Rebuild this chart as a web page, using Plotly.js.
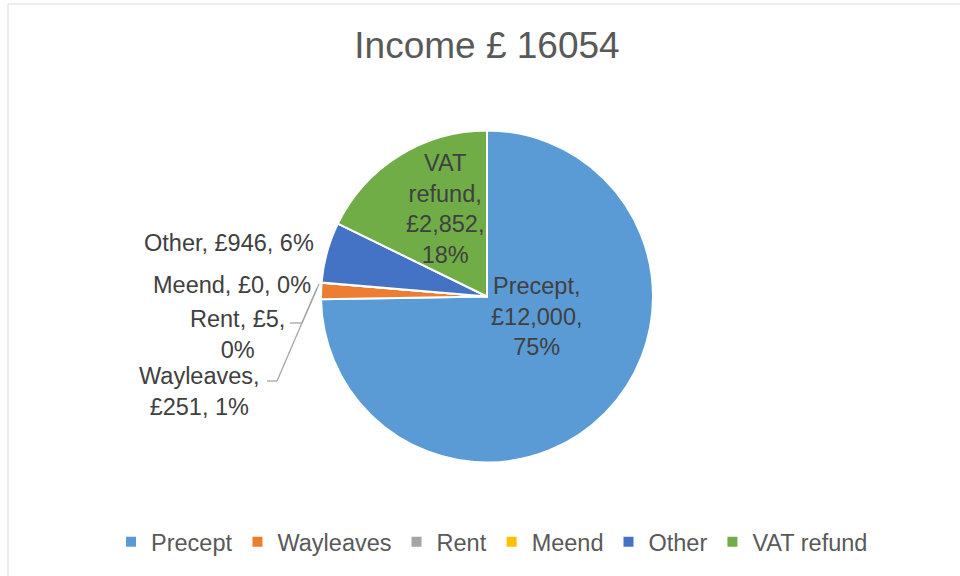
<!DOCTYPE html>
<html>
<head>
<meta charset="utf-8">
<script src="https://cdn.plot.ly/plotly-3.0.1.min.js"></script>
<style>html,body{margin:0;padding:0;background:#fff;}#chart{width:960px;height:576px;}</style>
</head>
<body>
<div id="chart"></div>
<script>
const categories = ["Precept", "Wayleaves", "Rent", "Meend", "Other", "VAT refund"];
const values = [12000, 251, 5, 0, 946, 2852];
const pctLabels = ["75%", "1%", "0%", "0%", "6%", "18%"];
const colors = ["#5B9BD5", "#ED7D31", "#A5A5A5", "#FFC000", "#4472C4", "#70AD47"];
const titleText = "Income £ 16054";

const W = 960, H = 576;
const px = x => x / W;
const py = y => 1 - y / H;
const FONT = "Liberation Sans, Arial, sans-serif";

function fmt(v) { return "£" + v.toLocaleString("en-GB"); }

// separators decide line breaks inside each label
const seps = [
  ["<br>", "<br>"],     // Precept
  ["<br>", " "],        // Wayleaves
  [" ", "<br>"],        // Rent
  [" ", " "],           // Meend
  [" ", " "],           // Other
  ["<br>", "<br>"]      // VAT refund
];
function labelText(i) {
  let name = categories[i] + ",";
  if (i === 5) name = "VAT<br>refund,";
  return name + seps[i][0] + fmt(values[i]) + "," + seps[i][1] + pctLabels[i];
}

// label placements (pixel centres) and anchors
const labelPos = [
  {x: 536, y: 316, xa: "center", align: "center"},
  {x: 199, y: 391, xa: "center", align: "center"},
  {x: 237, y: 334, xa: "center", align: "center"},
  {x: 313, y: 285, xa: "right", align: "right"},
  {x: 316, y: 243, xa: "right", align: "right"},
  {x: 445, y: 209, xa: "center", align: "center"}
];

const annotations = categories.map((c, i) => ({
  xref: "paper", yref: "paper",
  x: px(labelPos[i].x), y: py(labelPos[i].y),
  xanchor: labelPos[i].xa, yanchor: "middle", align: labelPos[i].align,
  text: labelText(i), showarrow: false,
  font: {family: FONT, size: 23.5, color: "#404040"}
}));

const lineStyle = {color: "#A6A6A6", width: 1.3};
const shapes = [
  {type: "rect", xref: "paper", yref: "paper", x0: px(8), x1: px(980), y0: py(600), y1: py(4),
   line: {color: "#D9D9D9", width: 1}, fillcolor: "rgba(0,0,0,0)"},
  // Rent leader
  {type: "line", xref: "paper", yref: "paper", x0: px(290), y0: py(323), x1: px(302), y1: py(323), line: lineStyle},
  {type: "line", xref: "paper", yref: "paper", x0: px(302), y0: py(323), x1: px(319), y1: py(284), line: lineStyle},
  // Wayleaves leader
  {type: "line", xref: "paper", yref: "paper", x0: px(267), y0: py(381), x1: px(277), y1: py(381), line: lineStyle},
  {type: "line", xref: "paper", yref: "paper", x0: px(277), y0: py(381), x1: px(317), y1: py(288), line: lineStyle}
];

const trace = {
  type: "pie",
  labels: categories,
  values: values,
  sort: false,
  direction: "clockwise",
  rotation: 0,
  textinfo: "none",
  hoverinfo: "label+value+percent",
  marker: {colors: colors, line: {color: "#FFFFFF", width: 2}},
  domain: {x: [px(321), px(653)], y: [py(463), py(130)]}
};

const layout = {
  width: W, height: H,
  margin: {l: 0, r: 0, t: 0, b: 0},
  paper_bgcolor: "#FFFFFF",
  title: {text: titleText, x: px(487), xanchor: "center", y: py(45), yanchor: "middle",
          font: {family: FONT, size: 37, color: "#595959"}},
  showlegend: true,
  legend: {orientation: "h", x: px(492), xanchor: "center", y: py(542), yanchor: "middle",
           font: {family: FONT, size: 23.5, color: "#595959"},
           itemwidth: 30, traceorder: "normal"},
  annotations: annotations,
  shapes: shapes
};

Plotly.newPlot("chart", [trace], layout, {displayModeBar: false, staticPlot: true});
</script>
</body>
</html>
